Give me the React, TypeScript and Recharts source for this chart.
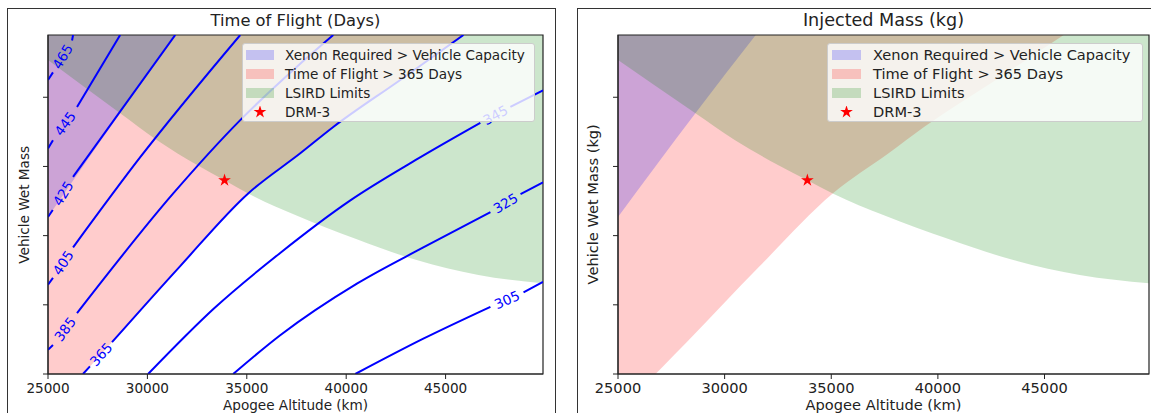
import React from "react";
import {
  ComposedChart,
  Area,
  Line,
  Scatter,
  XAxis,
  YAxis,
  Legend,
  ReferenceArea,
  Symbols,
} from "recharts";

// axes
const ALT_MIN = 25000;
const ALT_MAX = 49900;
const MASS_MIN = 1000;
const MASS_MAX = 1490;
const altTicks = [25000, 30000, 35000, 40000, 45000];
const massTicks = [1000, 1100, 1200, 1300, 1400];

// time of flight contours [altitude km, wet mass], null = break for inline label
type Pt = [number, number] | null;
const tof465: Pt[] = [[25000, 1425], [25250, 1436], null, [26210, 1482], [26260, 1490]];
const tof445: Pt[] = [[25000, 1326], [25250, 1338], null, [26460, 1386], [28630, 1490]];
const tof425: Pt[] = [[25000, 1227], [25240, 1237], null, [26260, 1285], [31400, 1490]];
const tof405: Pt[] = [[25000, 1129], [25250, 1139], null, [26260, 1183], [29630, 1313], [34670, 1490]];
const tof385: Pt[] = [[25000, 1035], [25250, 1042], null, [26460, 1088], [31300, 1261], [34670, 1367], [37590, 1446], [39350, 1490]];
const tof365: Pt[] = [[26760, 1000], [27110, 1011], null, [28220, 1046], [31650, 1156], [35070, 1261], [37690, 1319], [39350, 1357], [42720, 1425], [45900, 1490]];
const tof345: Pt[] = [[30035, 1000], [33360, 1095], [36680, 1175], [40210, 1251], [43480, 1309], [46750, 1363], null, [48260, 1386], [49900, 1410]];
const tof325: Pt[] = [[34315, 1000], [36680, 1056], [40560, 1131], [43880, 1183], [47255, 1234], null, [48770, 1260], [49900, 1277]];
const tof305: Pt[] = [[40460, 1000], [43880, 1051], [47255, 1097], null, [48920, 1118], [49900, 1133]];
const tofLevels = [465, 445, 425, 405, 385, 365, 345, 325, 305];
const tofLines = [tof465, tof445, tof425, tof405, tof385, tof365, tof345, tof325, tof305];

// region lower edges (region runs up to top of plot)
const xenonEdge: [number, number][] = [[25000, 1227], [28630, 1377], [31460, 1490]];
const lsirdEdge: [number, number][] = [[25000, 1454], [28630, 1377], [30490, 1338], [32500, 1302], [33880, 1280], [35070, 1261], [37500, 1229], [40500, 1195], [43500, 1165], [46650, 1143], [49900, 1131]];
// 365-day contour, continued below the plot floor on the left
const tofEdge: [number, number][] = [[25000, 945], ...(tof365.filter(Boolean) as [number, number][])];

const drm3 = [{ alt: 33880, m: 1280 }];

const legendLabels = ["Xenon Required > Vehicle Capacity", "Time of Flight > 365 Days", "LSIRD Limits", "DRM-3"];
const legendFills = ["rgba(0,0,255,0.2)", "rgba(255,0,0,0.2)", "rgba(0,128,0,0.2)", null];

const FONT = '"DejaVu Sans", sans-serif';
const CHART_H = 413;
const PLOT_TOP = 35;
const PLOT_BOTTOM = 374;
const YAXIS_W = 30;
const XAXIS_H = 25;

const band = (pts: [number, number][]) => pts.map(([a, m]) => ({ alt: a, band: [m, MASS_MAX] }));

function lineData(pts: Pt[]) {
  return pts.map((p, i) => {
    if (p) return { alt: p[0], m: p[1] };
    const a = pts[i - 1]!, b = pts[i + 1]!;
    return { alt: (a[0] + b[0]) / 2, m: null };
  });
}

function labelDatum(level: number, pts: Pt[], pxA: number, pxM: number) {
  const i = pts.indexOf(null);
  const a = pts[i - 1]!, b = pts[i + 1]!;
  const ang = (Math.atan2(-(b[1] - a[1]) * pxM, (b[0] - a[0]) * pxA) * 180) / Math.PI;
  return { alt: (a[0] + b[0]) / 2, m: (a[1] + b[1]) / 2, text: String(level), angle: ang };
}

const StarDot = (p: any) => <Symbols cx={p.cx} cy={p.cy} type="star" size={50} fill="#ff0000" />;

function LegendBox({ fontSize, swatchW, swatchL, gap }: { fontSize: number; swatchW: number; swatchL: number; gap: number }) {
  return (
    <div
      style={{
        boxSizing: "border-box",
        height: 79,
        paddingTop: 1,
        background: "rgba(255,255,255,0.8)",
        border: "1px solid #cccccc",
        borderRadius: 3,
        fontFamily: FONT,
        fontSize,
        color: "#222",
      }}
    >
      {legendLabels.map((t, i) => (
        <div key={t} style={{ height: 19, display: "flex", alignItems: "center", whiteSpace: "nowrap" }}>
          <svg width={swatchW} height={12} style={{ marginLeft: swatchL, marginRight: gap, flex: "none" }}>
            {legendFills[i] ? (
              <rect x={0} y={1} width={swatchW} height={10} fill={legendFills[i] as string} />
            ) : (
              <Symbols cx={swatchW / 2} cy={6} type="star" size={50} fill="#ff0000" />
            )}
          </svg>
          <span>{t}</span>
        </div>
      ))}
    </div>
  );
}

function Panel(props: {
  x: number;
  w: number;
  plotLeft: number;
  plotRight: number;
  title: string;
  yLabel: string;
  titleSize: number;
  fontSize: number;
  tickMargin: number;
  xLabelBase: number;
  yLabelX: number;
  contours: boolean;
  legendLeft: number;
  legendWidth: number;
  swatchW: number;
  swatchL: number;
  gap: number;
}) {
  const { x, w, plotLeft, plotRight, fontSize } = props;
  const plotW = plotRight - plotLeft;
  const plotH = PLOT_BOTTOM - PLOT_TOP;
  const pxA = plotW / (ALT_MAX - ALT_MIN);
  const pxM = plotH / (MASS_MAX - MASS_MIN);
  const labels = tofLines.map((pts, i) => labelDatum(tofLevels[i], pts, pxA, pxM));
  const renderLabel = (p: any) => (
    <text
      x={p.cx}
      y={p.cy}
      transform={`rotate(${p.payload.angle} ${p.cx} ${p.cy})`}
      textAnchor="middle"
      dominantBaseline="central"
      fill="#0000ff"
      fontSize={13.6}
      fontFamily={FONT}
    >
      {p.payload.text}
    </text>
  );
  const cx = (plotLeft + plotRight) / 2 - x;
  return (
    <div style={{ position: "absolute", left: x, top: 0, width: w, height: CHART_H }}>
      <ComposedChart
        width={w}
        height={CHART_H}
        margin={{
          top: PLOT_TOP,
          right: x + w - plotRight,
          bottom: CHART_H - PLOT_BOTTOM - XAXIS_H,
          left: plotLeft - x - YAXIS_W,
        }}
      >
        <XAxis
          type="number"
          dataKey="alt"
          domain={[ALT_MIN, ALT_MAX]}
          ticks={altTicks}
          interval={0}
          allowDataOverflow
          height={XAXIS_H}
          tickSize={5}
          tickMargin={props.tickMargin}
          stroke="#222"
          tick={{ fill: "#222", fontSize, fontFamily: FONT }}
        />
        <YAxis
          type="number"
          domain={[MASS_MIN, MASS_MAX]}
          ticks={massTicks}
          allowDataOverflow
          width={YAXIS_W}
          tickSize={5}
          tickFormatter={() => ""}
          stroke="#222"
        />
        <Area data={band(tofEdge)} dataKey="band" type="monotone" fill="#ff0000" fillOpacity={0.2} stroke="none" isAnimationActive={false} />
        <Area data={band(xenonEdge)} dataKey="band" type="monotone" fill="#0000ff" fillOpacity={0.2} stroke="none" isAnimationActive={false} />
        <Area data={band(lsirdEdge)} dataKey="band" type="monotone" fill="#008000" fillOpacity={0.2} stroke="none" isAnimationActive={false} />
        {props.contours &&
          tofLines.map((pts, i) => (
            <Line
              key={tofLevels[i]}
              data={lineData(pts)}
              dataKey="m"
              type="monotone"
              stroke="#0000ff"
              strokeWidth={2}
              dot={false}
              activeDot={false}
              isAnimationActive={false}
            />
          ))}
        {props.contours && <Scatter data={labels} dataKey="m" shape={renderLabel} isAnimationActive={false} />}
        <Scatter data={drm3} dataKey="m" shape={StarDot} isAnimationActive={false} />
        <ReferenceArea x1={ALT_MIN} x2={ALT_MAX} y1={MASS_MIN} y2={MASS_MAX} fill="none" stroke="#222" strokeWidth={1.2} />
        <Legend
          layout="vertical"
          align="center"
          verticalAlign="middle"
          wrapperStyle={{ left: props.legendLeft, top: 43, width: props.legendWidth, height: 79 }}
          content={() => <LegendBox fontSize={fontSize} swatchW={props.swatchW} swatchL={props.swatchL} gap={props.gap} />}
        />
      </ComposedChart>
      <div
        style={{
          position: "absolute",
          left: cx - 200,
          width: 400,
          top: 27 - 0.846 * props.titleSize,
          textAlign: "center",
          fontFamily: FONT,
          fontSize: props.titleSize,
          lineHeight: `${props.titleSize}px`,
          color: "#222",
        }}
      >
        {props.title}
      </div>
      <div
        style={{
          position: "absolute",
          left: cx - 200,
          width: 400,
          top: props.xLabelBase - 0.846 * fontSize,
          textAlign: "center",
          fontFamily: FONT,
          fontSize,
          lineHeight: `${fontSize}px`,
          color: "#222",
          whiteSpace: "nowrap",
        }}
      >
        Apogee Altitude (km)
      </div>
      <div
        style={{
          position: "absolute",
          left: props.yLabelX - x - 150,
          width: 300,
          top: (PLOT_TOP + PLOT_BOTTOM) / 2 - fontSize / 2,
          height: fontSize,
          textAlign: "center",
          fontFamily: FONT,
          fontSize,
          lineHeight: `${fontSize}px`,
          color: "#222",
          whiteSpace: "nowrap",
          transform: "rotate(-90deg)",
        }}
      >
        {props.yLabel}
      </div>
    </div>
  );
}

export default function App() {
  return (
    <div style={{ position: "absolute", left: 0, top: 0, width: 1151, height: 413, overflow: "hidden", background: "#fff" }}>
      <div style={{ position: "absolute", left: 6.5, top: 7.5, width: 549, height: 430, border: "1.5px solid #333", boxSizing: "border-box" }} />
      <div style={{ position: "absolute", left: 576.5, top: 7.5, width: 620, height: 430, border: "1.5px solid #333", boxSizing: "border-box" }} />
      <Panel
        x={0}
        w={555}
        plotLeft={48}
        plotRight={543}
        title="Time of Flight (Days)"
        yLabel="Vehicle Wet Mass"
        titleSize={16.3}
        fontSize={13.6}
        tickMargin={4}
        xLabelBase={411}
        yLabelX={25.3}
        contours
        legendLeft={242}
        legendWidth={293}
        swatchW={28}
        swatchL={3}
        gap={11}
      />
      <Panel
        x={570}
        w={581}
        plotLeft={618}
        plotRight={1149}
        title="Injected Mass (kg)"
        yLabel="Vehicle Wet Mass (kg)"
        titleSize={17.6}
        fontSize={14.6}
        tickMargin={3.5}
        xLabelBase={410}
        yLabelX={593}
        contours={false}
        legendLeft={257}
        legendWidth={316}
        swatchW={29}
        swatchL={4}
        gap={12}
      />
    </div>
  );
}
